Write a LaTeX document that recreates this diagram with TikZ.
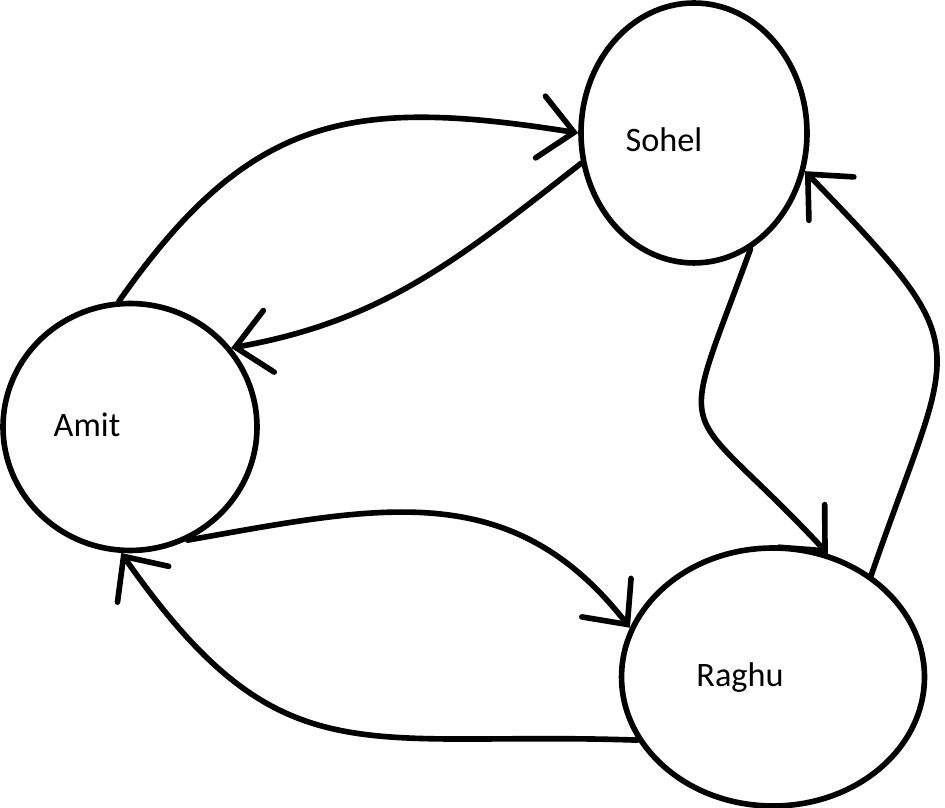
\documentclass[tikz,border=0pt]{standalone}
\usepackage{fontspec}
\setmainfont{Carlito}
\usetikzlibrary{arrows.meta,shapes.geometric}

\begin{document}
\begin{tikzpicture}[x=0.02cm, y=0.02cm,
   person/.style={draw, ellipse, line width=3.2pt, inner sep=0pt},
   who/.style={anchor=base, font=\fontsize{19.5}{23}\selectfont},
   relation/.style={line width=3.2pt, line cap=round,
      -{Straight Barb[length=0.68cm, width=1.25cm, line cap=round]}}]

\useasboundingbox (0,0) rectangle (945,807);

% people
\node[person, minimum width=4.52cm, minimum height=5.2cm] (sohel) at (694,674) {};
\node[person, minimum width=5.08cm, minimum height=4.94cm] (amit) at (130,380) {};
\node[person, minimum width=6.06cm, minimum height=5.16cm] (raghu) at (773,130) {};

\node[who] (sohel-text) at (664,655) {Sohel};
\node[who] (amit-text) at (87,370) {Amit};
\node[who] (raghu-text) at (740,120) {Raghu};

% relations
\draw[relation] (amit.95) to[out=55, in=171, looseness=1.2] (sohel.180);
\draw[relation] (sohel.195) to[out=218, in=10] (amit.38);
\draw[relation] (sohel.-64) to[out=250, in=133, looseness=1.8] (raghu.66);
\draw[relation] (raghu.46) to[out=71, in=-46, looseness=1.6] (sohel.-19);
\draw[relation] (amit.-63) to[out=10, in=128, looseness=1.1] (raghu.161);
\draw[relation] (raghu.205) to[out=178, in=-55, looseness=1.3] (amit.266);

\end{tikzpicture}
\end{document}
